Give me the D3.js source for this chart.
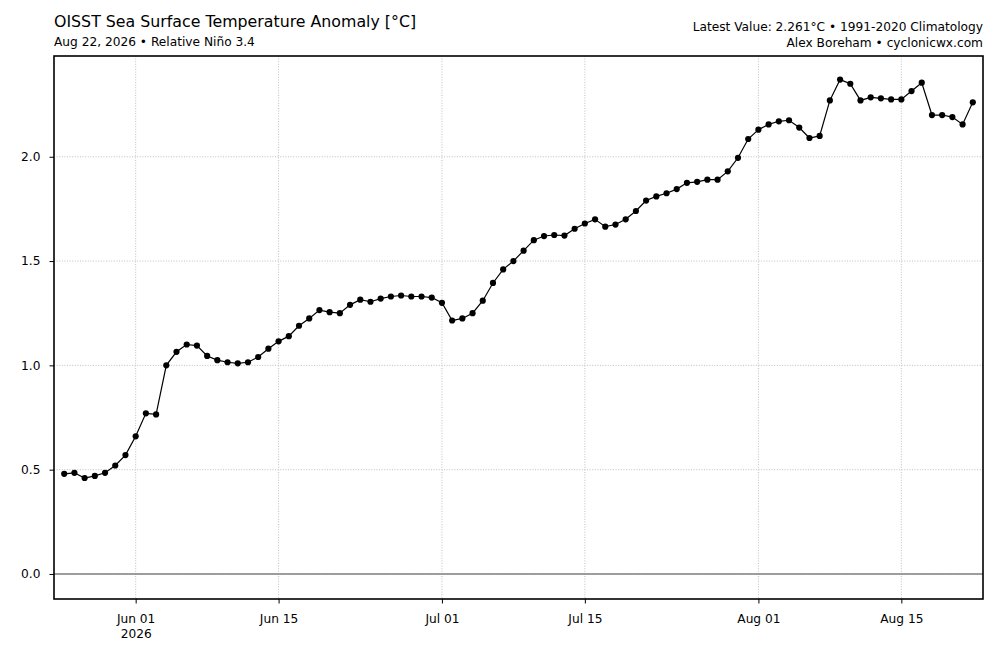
<!DOCTYPE html>
<html><head><meta charset="utf-8">
<script src="https://cdn.jsdelivr.net/npm/d3@7"></script>
<style>body{margin:0;background:#fff}svg{display:block;font-family:"DejaVu Sans",sans-serif}</style>
</head><body><svg id="c" width="1000" height="646"></svg>
<script>
const startDate = "2026-05-25";
const anomalies = [
 0.480,0.485,0.460,0.470,0.485,0.520,0.570,
 0.660,0.770,0.765,1.000,1.065,1.100,1.095,1.045,1.025,1.015,1.010,1.015,1.040,1.080,1.115,1.140,1.190,1.225,1.265,1.255,1.250,1.290,1.315,1.305,1.320,1.330,1.335,1.330,1.330,1.325,
 1.300,1.215,1.225,1.250,1.310,1.395,1.460,1.500,1.550,1.600,1.620,1.625,1.622,1.655,1.680,1.700,1.665,1.675,1.700,1.740,1.790,1.810,1.825,1.845,1.875,1.880,1.890,1.890,1.930,1.995,2.085,
 2.130,2.155,2.170,2.175,2.140,2.090,2.100,2.270,2.370,2.350,2.270,2.285,2.280,2.275,2.275,2.315,2.355,2.200,2.200,2.190,2.155,2.261
];
const yTicks = [0.0,0.5,1.0,1.5,2.0];
const xTickDates = ["2026-06-01","2026-06-15","2026-07-01","2026-07-15","2026-08-01","2026-08-15"];
const xDomain = ["2026-05-24","2026-08-23"];
const yDomain = [-0.12, 2.483];
const titleText = "OISST Sea Surface Temperature Anomaly [°C]";
const subtitleText = "Aug 22, 2026 • Relative Niño 3.4";
const rightLine1 = "Latest Value: 2.261°C • 1991-2020 Climatology";
const rightLine2 = "Alex Boreham • cyclonicwx.com";

const parse = d3.utcParse("%Y-%m-%d");
const t0 = parse(startDate);
const data = anomalies.map((v,i)=>({date:d3.utcDay.offset(t0,i), value:v}));

const L=54, R=983, T=56, B=599;
const FS = 12.2;
const svg = d3.select("#c");
const x = d3.scaleUtc().domain(xDomain.map(parse)).range([L,R]);
const y = d3.scaleLinear().domain(yDomain).range([B,T]);
const xt = xTickDates.map(parse);

// grid
const g = svg.append("g");
g.selectAll(".gx").data(xt).join("line")
 .attr("x1",d=>x(d)).attr("x2",d=>x(d)).attr("y1",T).attr("y2",B)
 .attr("stroke","#b0b0b0").attr("stroke-width",0.8).attr("stroke-dasharray","1,1.6");
g.selectAll(".gy").data(yTicks).join("line")
 .attr("x1",L).attr("x2",R).attr("y1",d=>y(d)).attr("y2",d=>y(d))
 .attr("stroke","#b0b0b0").attr("stroke-width",0.8).attr("stroke-dasharray","1,1.6");

// zero line
svg.append("line").attr("x1",L).attr("x2",R).attr("y1",y(0)).attr("y2",y(0))
 .attr("stroke","#808080").attr("stroke-width",1.4);

// line + points
svg.append("path").datum(data)
 .attr("d",d3.line().x(d=>x(d.date)).y(d=>y(d.value)))
 .attr("fill","none").attr("stroke","#000").attr("stroke-width",1.2);
svg.append("g").selectAll("circle").data(data).join("circle")
 .attr("cx",d=>x(d.date)).attr("cy",d=>y(d.value)).attr("r",3.1).attr("fill","#000");

// axes
const fmt = d3.utcFormat("%b %d");
const xAxis = d3.axisBottom(x).tickValues(xt).tickSize(4.5).tickPadding(8)
 .tickFormat(d=>fmt(d));
const gx = svg.append("g").attr("transform",`translate(0,${B})`).call(xAxis);
gx.select(".domain").remove();
gx.selectAll("line").attr("stroke","#000").attr("stroke-width",1);
gx.selectAll("text").attr("font-size",FS).attr("fill","#000").attr("font-family","DejaVu Sans").attr("dy","0.95em");
gx.selectAll(".tick").filter((d,i)=>i===0).append("text")
 .attr("y",4.5+8).attr("dy","2.17em").attr("text-anchor","middle").attr("fill","#000")
 .attr("font-size",FS).attr("font-family","DejaVu Sans").text("2026");

const yAxis = d3.axisLeft(y).tickValues(yTicks).tickSize(4.5).tickPadding(9).tickFormat(d3.format(".1f"));
const gy = svg.append("g").attr("transform",`translate(${L},0)`).call(yAxis);
gy.select(".domain").remove();
gy.selectAll("line").attr("stroke","#000").attr("stroke-width",1);
gy.selectAll("text").attr("font-size",FS).attr("fill","#000").attr("font-family","DejaVu Sans");

// frame
svg.append("rect").attr("x",L).attr("y",T).attr("width",R-L).attr("height",B-T)
 .attr("fill","none").attr("stroke","#000").attr("stroke-width",1.6);

// titles
svg.append("text").attr("x",L).attr("y",27).attr("font-size",15.8).attr("fill","#000").text(titleText);
svg.append("text").attr("x",L).attr("y",46).attr("font-size",FS).attr("fill","#000").text(subtitleText);
svg.append("text").attr("x",R).attr("y",31).attr("text-anchor","end").attr("font-size",FS).attr("fill","#000").text(rightLine1);
svg.append("text").attr("x",R).attr("y",47).attr("text-anchor","end").attr("font-size",FS).attr("fill","#000").text(rightLine2);
</script></body></html>
